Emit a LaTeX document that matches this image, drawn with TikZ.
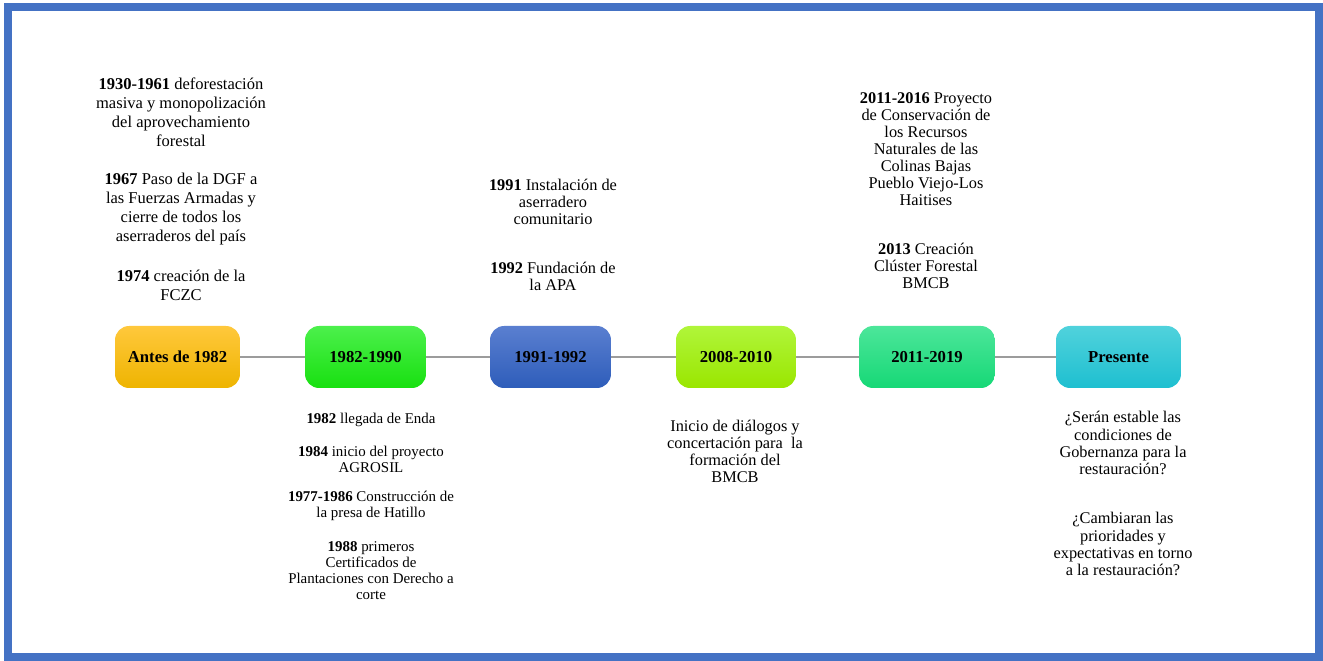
\documentclass[tikz,border=0pt]{standalone}
\usepackage{fontspec}
\setmainfont{Liberation Serif}
\usetikzlibrary{positioning}
\definecolor{frameblue}{HTML}{4472C4}
\definecolor{linkgray}{HTML}{9C9C9C}
\tikzset{period/.style={rounded corners=8pt,minimum height=1.24cm,inner sep=0pt,font=\fontsize{9.5}{11}\selectfont\bfseries},
         link/.style={draw=linkgray,line width=1.2pt},
         note/.style={align=center,inner sep=0pt,font=\fontsize{9.4}{10.8}\selectfont},
         notemid/.style={align=center,inner sep=0pt,font=\fontsize{9.3}{9.7}\selectfont},
         notesmall/.style={align=center,inner sep=0pt,font=\fontsize{8.5}{9.1}\selectfont},
        }
\begin{document}
\begin{tikzpicture}[x=0.02cm,y=-0.02cm]
        \useasboundingbox(0,0)rectangle(1323,661);
        \draw[frameblue,line width=0.16cm](8,7)rectangle(1319,657);

        \node[period,minimum width=2.5cm,top color={rgb,255:red,255;green,200;blue,60},bottom color={rgb,255:red,238;green,180;blue,0}](p1)at(177.5,357){Antes de 1982};
        \node[period,minimum width=2.42cm,top color={rgb,255:red,76;green,240;blue,76},bottom color={rgb,255:red,24;green,224;blue,16}](p2)at(365.5,357){1982-1990};
        \node[period,minimum width=2.42cm,top color={rgb,255:red,90;green,127;blue,208},bottom color={rgb,255:red,46;green,93;blue,186}](p3)at(550.5,357){1991-1992};
        \node[period,minimum width=2.4cm,top color={rgb,255:red,176;green,245;blue,58},bottom color={rgb,255:red,154;green,230;blue,0}](p4)at(736,357){2008-2010};
        \node[period,minimum width=2.72cm,top color={rgb,255:red,76;green,230;blue,154},bottom color={rgb,255:red,22;green,216;blue,118}](p5)at(927,357){2011-2019};
        \node[period,minimum width=2.5cm,top color={rgb,255:red,80;green,210;blue,220},bottom color={rgb,255:red,30;green,191;blue,208}](p6)at(1118.5,357){Presente};

        \draw[link](p1)--(p2);
        \draw[link](p2)--(p3);
        \draw[link](p3)--(p4);
        \draw[link](p4)--(p5);
        \draw[link](p5)--(p6);

        \node[note](a1)at(181,112){\textbf{1930-1961} deforestación\\masiva y monopolización\\del aprovechamiento\\forestal};
        \node[note](a2)at(181,209){\textbf{1967} Paso de la DGF a\\las Fuerzas Armadas y\\cierre de todos los\\aserraderos del país};
        \node[note](a3)at(181,285){\textbf{1974} creación de la\\FCZC};

        \node[notemid](c1)at(553,202){\textbf{1991} Instalación de\\aserradero\\comunitario};
        \node[notemid](c2)at(553,276){\textbf{1992} Fundación de\\la APA};

        \node[notemid](e1)at(926,149){\textbf{2011-2016} Proyecto\\de Conservación de\\los Recursos\\Naturales de las\\Colinas Bajas\\Pueblo Viejo-Los\\Haitises};
        \node[notemid](e2)at(926,266){\textbf{2013} Creación\\Clúster Forestal\\BMCB};

        \node[notesmall](b1)at(371,420){\textbf{1982} llegada de Enda};
        \node[notesmall](b2)at(371,459){\textbf{1984} inicio del proyecto\\AGROSIL};
        \node[notesmall](b3)at(371,506){\textbf{1977-1986} Construcción de\\la presa de Hatillo};
        \node[notesmall](b4)at(371,571){\textbf{1988} primeros\\Certificados de\\Plantaciones con Derecho a\\corte};

        \node[notemid](d1)at(735,451){Inicio de diálogos y\\concertación para\ \ la\\formación del\\BMCB};

        \node[notemid](f1)at(1123,443){¿Serán estable las\\condiciones de\\Gobernanza para la\\restauración?};
        \node[notemid](f2)at(1123,544){¿Cambiaran las\\prioridades y\\expectativas en torno\\a la restauración?};
    \end{tikzpicture}
\end{document}
